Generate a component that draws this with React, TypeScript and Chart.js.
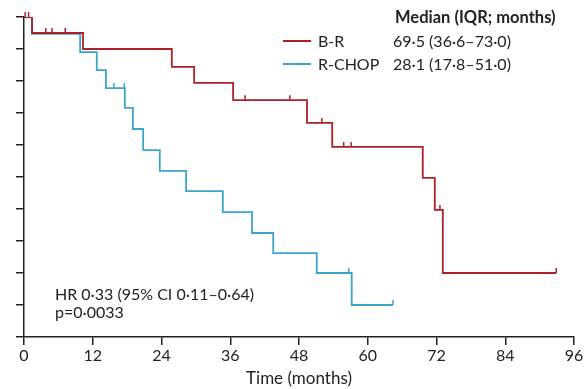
import React, { useEffect, useRef } from "react";
import { Chart, registerables } from "chart.js";

Chart.register(...registerables);

// Kaplan–Meier step data (time in months, survival proportion)
const brTimes = [0, 1.4, 10.3, 25.8, 29.7, 36.5, 49.4, 53.8, 69.6, 71.7, 73.1, 92.9];
const brSurv = [1.0, 0.95, 0.90, 0.844, 0.794, 0.74, 0.669, 0.594, 0.497, 0.397, 0.2, 0.2];

const rcTimes = [0, 1.4, 9.8, 12.7, 14.3, 17.6, 19.0, 20.8, 23.7, 28.3, 34.7, 39.8, 43.5, 51.1, 57.2, 64.4];
const rcSurv = [1.0, 0.947, 0.89, 0.834, 0.778, 0.716, 0.65, 0.584, 0.519, 0.456, 0.39, 0.325, 0.262, 0.2, 0.1, 0.1];

// Censoring marks
const brCensorTimes = [0.2, 0.8, 3.8, 4.9, 7.2, 38.6, 46.4, 52.0, 55.8, 57.1, 72.6, 92.9];
const brCensorSurv = [1, 1, 0.95, 0.95, 0.95, 0.74, 0.74, 0.669, 0.594, 0.594, 0.397, 0.2];
const rcCensorTimes = [15.7, 17.5, 56.7, 64.4];
const rcCensorSurv = [0.778, 0.778, 0.2, 0.1];

const xTicks = [0, 12, 24, 36, 48, 60, 72, 84, 96];

const seriesNames = ["B-R", "R-CHOP"];
const medians = ["69·5 (36·6–73·0)", "28·1 (17·8–51·0)"];
const legendTitle = "Median (IQR; months)";
const hrLines = ["HR 0·33 (95% CI 0·11–0·64)", "p=0·0033"];
const xTitle = "Time (months)";

const RED = "#ae1f2c";
const BLUE = "#3aa5cc";
const FONT = "Lato, 'Open Sans', sans-serif";

const censorPlugin = {
  id: "censor",
  afterDatasetsDraw(chart: any) {
    const xs = chart.scales.x;
    const ys = chart.scales.y;
    const ctx = chart.ctx;
    const sets = [
      { t: brCensorTimes, s: brCensorSurv, c: RED },
      { t: rcCensorTimes, s: rcCensorSurv, c: BLUE },
    ];
    ctx.save();
    ctx.lineWidth = 1.5;
    for (const set of sets) {
      ctx.strokeStyle = set.c;
      for (let i = 0; i < set.t.length; i++) {
        const px = xs.getPixelForValue(set.t[i]);
        const py = ys.getPixelForValue(set.s[i]);
        ctx.beginPath();
        ctx.moveTo(px, py);
        ctx.lineTo(px, py - 5);
        ctx.stroke();
      }
    }
    ctx.restore();
  },
};

export default function App() {
  const ref = useRef<HTMLCanvasElement | null>(null);

  useEffect(() => {
    if (!ref.current) return;
    const chart = new Chart(ref.current, {
      type: "line",
      data: {
        datasets: [
          {
            label: seriesNames[0],
            data: brTimes.map((t, i) => ({ x: t, y: brSurv[i] })),
            borderColor: RED,
            borderWidth: 1.8,
            pointRadius: 0,
            stepped: true,
            fill: false,
          },
          {
            label: seriesNames[1],
            data: rcTimes.map((t, i) => ({ x: t, y: rcSurv[i] })),
            borderColor: BLUE,
            borderWidth: 1.8,
            pointRadius: 0,
            stepped: true,
            fill: false,
            order: 1,
          },
        ],
      },
      options: {
        animation: false,
        responsive: false,
        maintainAspectRatio: false,
        layout: { padding: { top: 17, right: 12, left: 0, bottom: 0 } },
        plugins: { legend: { display: false }, tooltip: { enabled: false } },
        scales: {
          x: {
            type: "linear",
            min: 0,
            max: 96,
            afterBuildTicks: (s: any) => {
              s.ticks = xTicks.map((v) => ({ value: v }));
            },
            afterFit: (s: any) => {
              s.height = 52;
            },
            ticks: { color: "#222", font: { family: FONT, size: 16 }, padding: 1 },
            grid: { drawOnChartArea: false, tickLength: 8, color: "#222", lineWidth: 1.5 },
            border: { color: "#222", width: 1.5 },
            title: {
              display: true,
              text: xTitle,
              color: "#222",
              font: { family: FONT, size: 17 },
              padding: { top: 0, bottom: 0 },
            },
          },
          y: {
            min: 0,
            max: 1,
            ticks: { stepSize: 0.1, display: false },
            afterFit: (s: any) => {
              s.width = 24;
            },
            grid: { drawOnChartArea: false, tickLength: 8, color: "#222", lineWidth: 1.5 },
            border: { color: "#222", width: 1.5 },
          },
        },
      },
      plugins: [censorPlugin],
    } as any);
    return () => chart.destroy();
  }, []);

  const txt: React.CSSProperties = {
    position: "absolute",
    fontFamily: FONT,
    fontSize: 16,
    color: "#222",
    whiteSpace: "nowrap",
    lineHeight: "18px",
  };

  return (
    <div style={{ position: "absolute", left: 0, top: 0, width: 586, height: 389, background: "#fff" }}>
      <canvas ref={ref} width={586} height={389} style={{ position: "absolute", left: 0, top: 0 }} />
      <div style={{ ...txt, left: 395, top: 8, fontWeight: 700, fontSize: 16.5 }}>{legendTitle}</div>
      <div style={{ position: "absolute", left: 283, top: 40, width: 28, height: 2, background: RED }} />
      <div style={{ ...txt, left: 318, top: 32 }}>{seriesNames[0]}</div>
      <div style={{ ...txt, left: 393, top: 32 }}>{medians[0]}</div>
      <div style={{ position: "absolute", left: 283, top: 63, width: 28, height: 2, background: BLUE }} />
      <div style={{ ...txt, left: 318, top: 55 }}>{seriesNames[1]}</div>
      <div style={{ ...txt, left: 393, top: 55 }}>{medians[1]}</div>
      <div style={{ ...txt, left: 55, top: 285 }}>{hrLines[0]}</div>
      <div style={{ ...txt, left: 55, top: 303 }}>{hrLines[1]}</div>
    </div>
  );
}
